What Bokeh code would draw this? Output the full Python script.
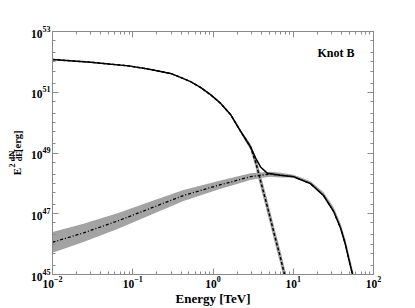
import math
from bokeh.plotting import figure
from bokeh.layouts import row
from bokeh.models import (LogAxis, FixedTicker, Label, CustomJSTickFormatter,
                          ColumnDataSource, Range1d)
from bokeh.core.properties import value
from bokeh.embed import file_html
from bokeh.resources import INLINE

# ---- data (log10 E [TeV], log10 E^2 dN/dE [erg]) ----
total_logE = [-2.0, -1.527, -1.028, -0.779, -0.530, -0.405, -0.280, -0.156, -0.031, 0.093,
              0.218, 0.343, 0.467, 0.530, 0.592, 0.679, 0.841, 1.003, 1.215, 1.377,
              1.502, 1.589, 1.651, 1.688, 1.738, 1.78]
total_logF = [52.08, 51.99, 51.86, 51.75, 51.62, 51.49, 51.35, 51.16, 50.92, 50.64,
              50.27, 49.72, 49.20, 48.84, 48.54, 48.33, 48.27, 48.22, 47.99, 47.60,
              47.08, 46.53, 45.98, 45.55, 45.00, 44.54]

hadr_logE = [-2.0, -1.527, -1.028, -0.779, -0.530, -0.405, -0.280, -0.156, -0.031, 0.093,
             0.218, 0.343, 0.467, 0.530, 0.592, 0.654, 0.717, 0.779, 0.841, 0.891, 0.95]
hadr_logF = [52.08, 51.99, 51.86, 51.75, 51.62, 51.49, 51.35, 51.16, 50.92, 50.64,
             50.27, 49.72, 49.20, 48.71, 48.09, 47.47, 46.82, 46.17, 45.55, 45.00, 44.35]
hadr_lo = [52.07, 51.98, 51.85, 51.74, 51.61, 51.48, 51.34, 51.15, 50.91, 50.63,
           50.25, 49.67, 49.10, 48.53, 47.87, 47.25, 46.60, 45.95, 45.33, 44.78, 44.13]
hadr_hi = [52.09, 52.00, 51.87, 51.76, 51.63, 51.50, 51.36, 51.17, 50.93, 50.65,
           50.29, 49.77, 49.30, 48.89, 48.31, 47.69, 47.04, 46.39, 45.77, 45.22, 44.57]

ic_logE = [-2.0, -1.614, -1.19, -0.779, -0.368, 0.056, 0.467, 0.629, 0.717, 0.841,
           1.003, 1.215, 1.377, 1.502, 1.589, 1.651, 1.688, 1.738, 1.78]
ic_logF = [46.06, 46.37, 46.76, 47.18, 47.60, 47.93, 48.22, 48.28, 48.30, 48.27,
           48.22, 47.99, 47.60, 47.08, 46.53, 45.98, 45.55, 45.00, 44.54]
ic_lo = [45.72, 46.07, 46.50, 46.96, 47.42, 47.79, 48.11, 48.19, 48.22, 48.19,
         48.19, 47.96, 47.57, 47.05, 46.50, 45.95, 45.52, 44.97, 44.51]
ic_hi = [46.40, 46.67, 47.02, 47.40, 47.78, 48.07, 48.33, 48.37, 48.38, 48.35,
         48.28, 48.07, 47.71, 47.22, 46.69, 46.15, 45.73, 45.19, 44.74]

x_major = [1e-2, 1e-1, 1e0, 1e1, 1e2]
y_major = [1e45, 1e47, 1e49, 1e51, 1e53]

def p10(a):
    return [10.0 ** v for v in a]

FONT = "Liberation Serif"
GRAY = "#8a8a8a"
BAND = "#a3a3a3"
H = 308
WL = 24

p = figure(width=390, height=H, x_axis_type="log", y_axis_type="log",
           x_range=(1e-2, 1e2), y_range=(1e45, 1e53),
           output_backend="svg", toolbar_location=None,
           min_border_left=52 - WL, min_border_right=41, min_border_top=31, min_border_bottom=28)
p.grid.visible = False
p.outline_line_color = GRAY
p.background_fill_color = "white"
p.border_fill_color = "white"

src_h = ColumnDataSource(dict(x=p10(hadr_logE), y=p10(hadr_logF), lo=p10(hadr_lo), hi=p10(hadr_hi)))
src_i = ColumnDataSource(dict(x=p10(ic_logE), y=p10(ic_logF), lo=p10(ic_lo), hi=p10(ic_hi)))
src_t = ColumnDataSource(dict(x=p10(total_logE), y=p10(total_logF)))

p.varea(x="x", y1="lo", y2="hi", source=src_i, fill_color=BAND)
p.varea(x="x", y1="lo", y2="hi", source=src_h, fill_color=BAND)
p.line(x="x", y="y", source=src_i, line_color="black", line_width=1.3, line_dash="3 2 1 2")
p.line(x="x", y="y", source=src_h, line_color="black", line_width=1.5, line_dash="3 2")
p.line(x="x", y="y", source=src_t, line_color="black", line_width=1.5)

x_minor = [m * 10.0 ** n for n in range(-2, 2) for m in range(1, 10)]
y_minor = [m * 10.0 ** n for n in range(45, 53) for m in (1, 2, 5)]

def style(ax, xt):
    ax.ticker = FixedTicker(ticks=x_major if xt else y_major,
                            minor_ticks=x_minor if xt else y_minor)
    ax.axis_line_color = GRAY
    ax.major_tick_line_color = GRAY
    ax.minor_tick_line_color = GRAY
    ax.major_tick_in = 6
    ax.major_tick_out = 0
    ax.minor_tick_in = 3
    ax.minor_tick_out = 0
    ax.major_label_text_font = FONT
    ax.major_label_text_font_style = "bold"
    ax.major_label_text_font_size = "11.5px"
    ax.major_label_text_color = "black"
    ax.major_label_standoff = 2

style(p.xaxis[0], True)
style(p.yaxis[0], False)
xa = p.xaxis[0]
xa.axis_label = "Energy [TeV]"
xa.axis_label_text_font = FONT
xa.axis_label_text_font_style = "bold"
xa.axis_label_text_font_size = "13px"
xa.axis_label_text_color = "black"
xa.axis_label_standoff = 0
xa.major_label_standoff = 1
p.yaxis[0].axis_label = None

top = LogAxis()
right = LogAxis()
style(top, True)
style(right, False)
for ax in (top, right):
    ax.formatter = CustomJSTickFormatter(code="return ''")
    ax.major_label_text_font_size = "1px"
    ax.major_label_standoff = 0
p.add_layout(top, "above")
p.add_layout(right, "right")

# panel annotation
p.add_layout(Label(x=20.0, y=10 ** 52.28, text="Knot B", text_font=FONT, text_font_style="bold",
                   text_font_size="12px", text_align="left", text_baseline="alphabetic",
                   text_color="black"))

# ---- y-axis title  E^2 dN/dE [erg]  in a narrow strip on the left (page pixel coords) ----
lab = figure(width=WL, height=H, x_range=Range1d(0, WL), y_range=Range1d(H, 0),
             output_backend="svg", toolbar_location=None, min_border=0,
             x_axis_location=None, y_axis_location=None)
lab.grid.visible = False
lab.outline_line_color = None
ang = math.pi / 2
def ytxt(x, y, t, size):
    lab.text(x=[x], y=[y], text=[t], angle=ang, text_font=value(FONT),
             text_font_style="bold", text_font_size=value(size), text_align="center",
             text_baseline="alphabetic", text_color="black")
ytxt(16.0, 177.5, "E", "11px")
ytxt(11.0, 170.0, "2", "8px")
ytxt(11.5, 158.0, "dN", "8.5px")
ytxt(18.5, 158.0, "dE", "8.5px")
ytxt(17.0, 139.0, "[erg]", "10.5px")
lab.segment(x0=[12.8], y0=[152.0], x1=[12.8], y1=[164.0], line_color="black", line_width=0.8)

open("out.html", "w").write(file_html(row(lab, p), INLINE))
